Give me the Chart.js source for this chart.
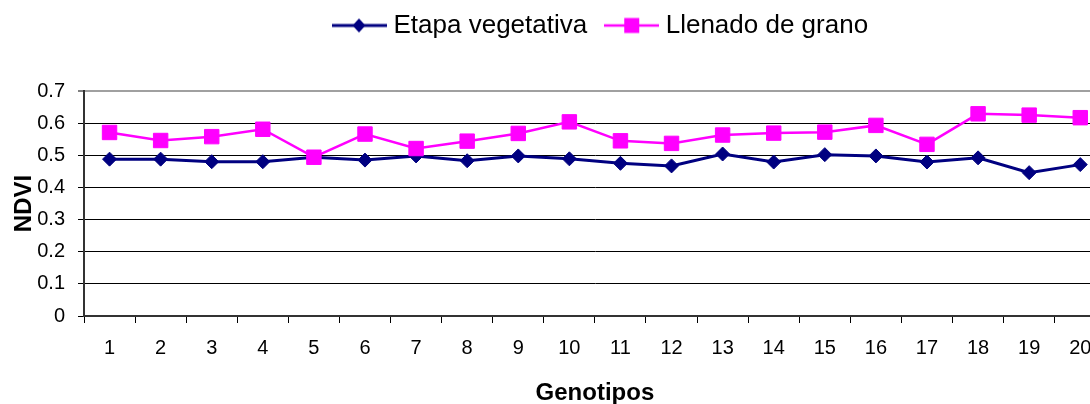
<!DOCTYPE html>
<html>
<head>
<meta charset="utf-8">
<script src="https://cdn.jsdelivr.net/npm/chart.js@4/dist/chart.umd.min.js"></script>
<style>
  html, body { margin: 0; padding: 0; background: #fff; overflow: hidden; }
  canvas { display: block; }
</style>
</head>
<body>
<canvas id="ndviChart" width="1117" height="404"></canvas>
<script>
  const genotipos = ["1", "2", "3", "4", "5", "6", "7", "8", "9", "10",
    "11", "12", "13", "14", "15", "16", "17", "18", "19", "20"];
  const etapaVegetativa = [0.488, 0.488, 0.480, 0.480, 0.494, 0.485, 0.498, 0.483, 0.498, 0.489,
    0.475, 0.467, 0.504, 0.479, 0.502, 0.498, 0.479, 0.492, 0.446, 0.471];
  const llenadoDeGrano = [0.571, 0.546, 0.558, 0.581, 0.494, 0.566, 0.521, 0.544, 0.568, 0.604,
    0.545, 0.537, 0.563, 0.569, 0.572, 0.593, 0.534, 0.629, 0.625, 0.617];
  const yTicks = [0, 0.1, 0.2, 0.3, 0.4, 0.5, 0.6, 0.7];

  const NAVY = "#000080";
  const MAGENTA = "#ff00ff";
  const FONT = "'Liberation Sans', Arial, sans-serif";

  // line + marker sample, like the Excel legend
  function legendMarker(color, lineWidth, shape) {
    const c = document.createElement("canvas");
    c.width = 55;
    c.height = 18;
    const g = c.getContext("2d");
    g.strokeStyle = color;
    g.lineWidth = lineWidth;
    g.beginPath();
    g.moveTo(0, 9);
    g.lineTo(55, 9);
    g.stroke();
    g.fillStyle = color;
    if (shape === "diamond") {
      g.beginPath();
      g.moveTo(27, 2);
      g.lineTo(33.5, 9);
      g.lineTo(27, 16);
      g.lineTo(20.5, 9);
      g.closePath();
      g.fill();
    } else {
      g.fillRect(20, 1.5, 15, 15);
    }
    return c;
  }

  const legendSamples = [
    legendMarker(NAVY, 3, "diamond"),
    legendMarker(MAGENTA, 2.5, "square")
  ];

  const legendPlacement = {
    id: "legendPlacement",
    beforeInit(chart) {
      const fit = chart.legend.fit;
      chart.legend.fit = function () {
        fit.call(this);
        this.height = 91;
      };
    },
    afterLayout(chart) {
      const legend = chart.legend;
      const dx = 315 - legend.left;
      legend.left += dx;
      legend.right += dx;
      legend.top = -11;
      legend.bottom = legend.top + legend.height;
    }
  };

  new Chart(document.getElementById("ndviChart").getContext("2d"), {
    type: "line",
    data: {
      labels: genotipos,
      datasets: [
        {
          label: "Etapa vegetativa",
          data: etapaVegetativa,
          borderColor: NAVY,
          backgroundColor: NAVY,
          borderWidth: 3,
          pointStyle: "rectRot",
          pointRadius: 7,
          pointBorderWidth: 1,
          pointBackgroundColor: NAVY,
          pointBorderColor: NAVY,
          tension: 0,
          order: 1
        },
        {
          label: "Llenado de grano",
          data: llenadoDeGrano,
          borderColor: MAGENTA,
          backgroundColor: MAGENTA,
          borderWidth: 2.5,
          pointStyle: "rect",
          pointRadius: 10.2,
          pointBorderWidth: 1,
          pointBackgroundColor: MAGENTA,
          pointBorderColor: MAGENTA,
          tension: 0,
          order: 0
        }
      ]
    },
    options: {
      responsive: false,
      animation: false,
      layout: { padding: { left: 0, right: 5, top: 0, bottom: 0 } },
      plugins: {
        tooltip: { enabled: false },
        legend: {
          position: "top",
          align: "start",
          labels: {
            usePointStyle: true,
            pointStyleWidth: 42,
            padding: 23.5,
            color: "#000",
            font: { family: FONT, size: 26 },
            generateLabels: (chart) => chart.data.datasets.map((ds, i) => ({
              text: ds.label,
              fillStyle: ds.borderColor,
              strokeStyle: ds.borderColor,
              lineWidth: 0,
              pointStyle: legendSamples[i],
              datasetIndex: i,
              hidden: false
            }))
          }
        }
      },
      scales: {
        x: {
          offset: true,
          afterFit: (scale) => { scale.height = 88; },
          grid: {
            offset: true,
            drawOnChartArea: false,
            drawTicks: true,
            tickLength: 7,
            tickColor: "#000",
            tickWidth: 1
          },
          border: { display: true, color: "#333", width: 2 },
          ticks: {
            color: "#000",
            padding: 13,
            maxRotation: 0,
            autoSkip: false,
            font: { family: FONT, size: 20 }
          },
          title: {
            display: true,
            text: "Genotipos",
            color: "#000",
            font: { family: FONT, size: 24, weight: "bold", lineHeight: 0.9 },
            padding: { top: 0, bottom: 0 }
          }
        },
        y: {
          min: 0,
          max: 0.7,
          afterFit: (scale) => { scale.width = 84; },
          afterBuildTicks: (scale) => { scale.ticks = yTicks.map((v) => ({ value: v })); },
          grid: {
            color: (ctx) => (ctx.tick && ctx.tick.value === 0.7 ? "#a0a0a0" : "#000"),
            lineWidth: (ctx) => (ctx.tick && ctx.tick.value === 0.7 ? 2 : 1),
            drawTicks: true,
            tickLength: 6,
            tickColor: "#000",
            tickWidth: 1
          },
          border: { display: true, color: "#333", width: 2 },
          ticks: {
            color: "#000",
            padding: 13,
            font: { family: FONT, size: 20 },
            callback: (value) => String(value)
          },
          title: {
            display: true,
            text: "NDVI",
            color: "#000",
            font: { family: FONT, size: 24, weight: "bold" },
            padding: { top: 10, bottom: 0 }
          }
        }
      }
    },
    plugins: [legendPlacement]
  });
</script>
</body>
</html>
